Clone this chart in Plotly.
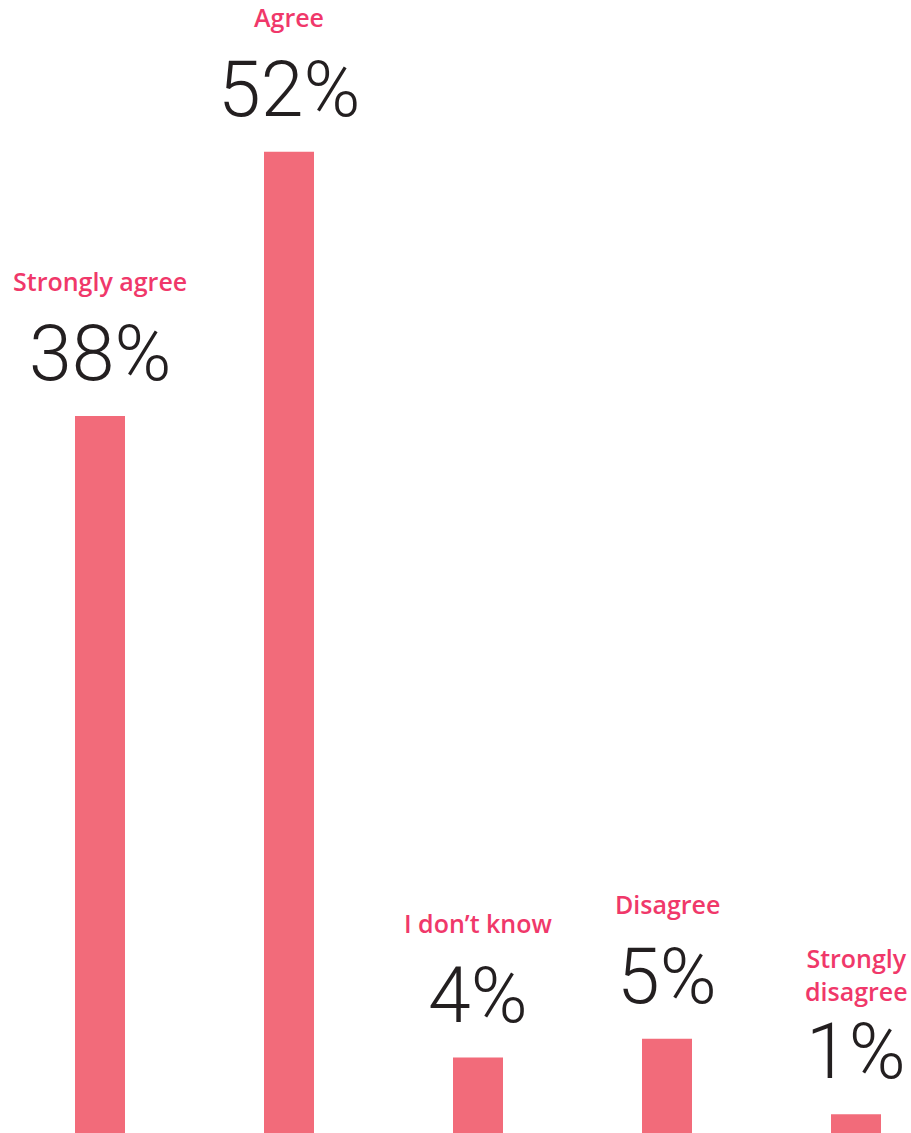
import plotly.graph_objects as go

categories = ["Strongly agree", "Agree", "I don't know", "Disagree", "Strongly disagree"]
label_text = ["Strongly agree", "Agree", "I don\u2019t know", "Disagree", "Strongly<br>disagree"]
values = [38, 52, 4, 5, 1]

BAR = "#F26B7A"
LABEL = "#F0386A"
TEXT = "#231F20"

x = list(range(len(categories)))
fig = go.Figure(go.Bar(x=x, y=values, marker=dict(color=BAR, line=dict(width=0)),
                       width=50 / 189, hoverinfo="skip"))

annotations = []
for i, (lab, v) in enumerate(zip(label_text, values)):
    annotations.append(dict(x=i, y=v, xref="x", yref="y", text=f"{v}%", showarrow=False,
                            yanchor="bottom", xanchor="center", yshift=16, borderpad=0,
                            font=dict(family="Roboto", size=77, color=TEXT, weight=300)))
    multi = "<br>" in lab
    annotations.append(dict(x=i, y=v, xref="x", yref="y", text=lab, showarrow=False,
                            yanchor="bottom", xanchor="center", borderpad=0,
                            yshift=(105 if multi else 117),
                            font=dict(family="Open Sans", size=25, color=LABEL, weight=600)))

fig.update_layout(
    width=911, height=1133,
    margin=dict(l=0, r=0, t=0, b=0),
    paper_bgcolor="white", plot_bgcolor="white",
    showlegend=False,
    xaxis=dict(range=[-100 / 189, 811 / 189], visible=False, fixedrange=True),
    yaxis=dict(range=[0, 1133 / 18.87], visible=False, fixedrange=True),
    annotations=annotations,
)

fig.write_html("out.html", config={"displayModeBar": False},
               post_script="document.body.style.margin='0';document.body.style.overflow='hidden';")
